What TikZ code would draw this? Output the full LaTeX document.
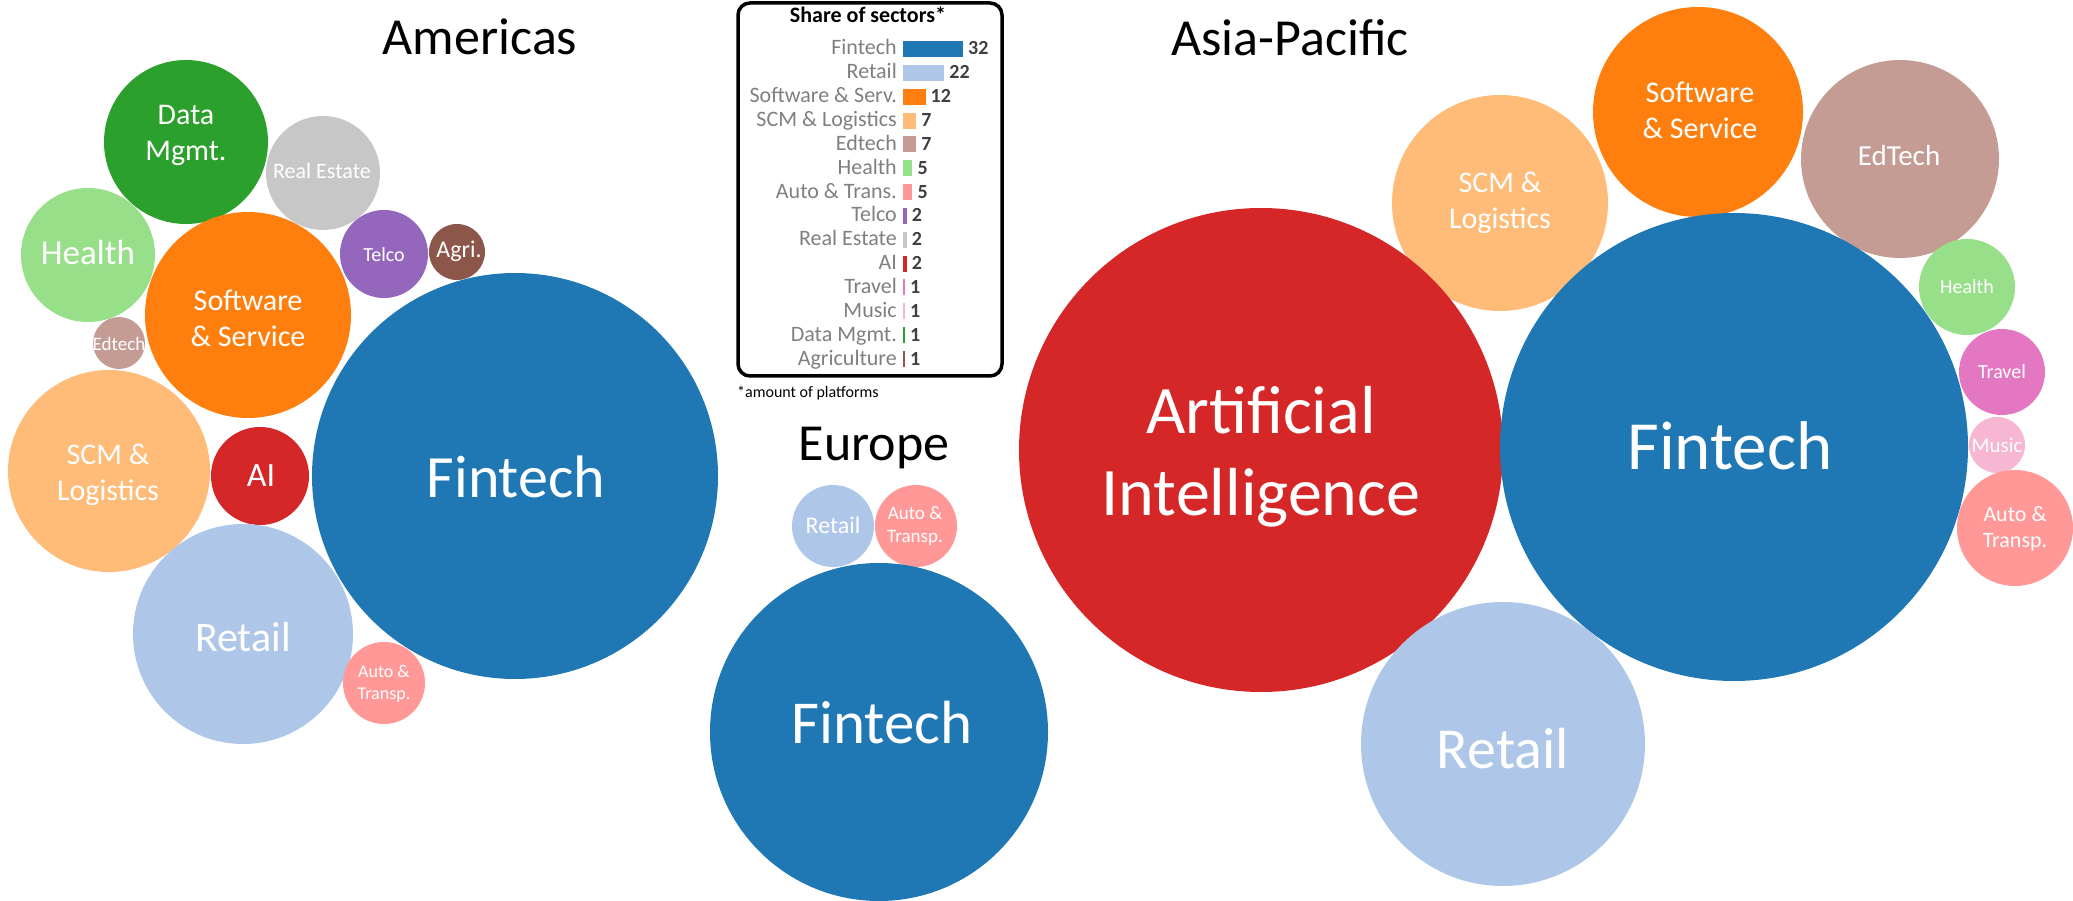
\documentclass[tikz,border=0pt]{standalone}
\usepackage{fontspec}
\setmainfont{Carlito}
\newcommand{\fsz}[1]{\fontsize{#1}{\fpeval{1.2*#1}}\selectfont}
\definecolor{cFin}{HTML}{1F77B4}
\definecolor{cRet}{HTML}{AEC7E8}
\definecolor{cSof}{HTML}{FF7F0E}
\definecolor{cScm}{HTML}{FFBB78}
\definecolor{cEdt}{HTML}{C49C94}
\definecolor{cHea}{HTML}{98DF8A}
\definecolor{cAut}{HTML}{FF9896}
\definecolor{cTel}{HTML}{9467BD}
\definecolor{cRea}{HTML}{C7C7C7}
\definecolor{cAI}{HTML}{D62728}
\definecolor{cTra}{HTML}{E377C2}
\definecolor{cMus}{HTML}{F7B6D2}
\definecolor{cDat}{HTML}{2CA02C}
\definecolor{cAgr}{HTML}{8C564B}
\definecolor{cLab}{HTML}{7F7F7F}
\definecolor{cNum}{HTML}{3F3F3F}
\begin{document}
\begin{tikzpicture}[x=1pt,y=-1pt,
  bub/.style={circle,inner sep=0pt,outer sep=0pt,draw=none,minimum size=#1},
  lab/.style={text=white,align=center,inner sep=0pt,font=\fsz{#1}},
  ttl/.style={text=black,inner sep=0pt,anchor=base,font=\fsz{52}},
  leglab/.style={text=cLab,inner sep=0pt,anchor=base east,font=\fsz{22}},
  legnum/.style={text=cNum,inner sep=0pt,anchor=base west,font=\fsz{20}\bfseries},
]
\useasboundingbox (0,0) rectangle (2073,901);

% ---------- Americas ----------
\node[ttl] (tAm) at (480,55) {Americas};
\node[bub=406pt,fill=cFin] (fA) at (515,476) {};
\node[bub=164pt,fill=cDat] (dmA) at (186,142) {};
\node[bub=114pt,fill=cRea] (reA) at (323,173) {};
\node[bub=134pt,fill=cHea] (heA) at (88,255) {};
\node[bub=206pt,fill=cSof] (ssA) at (248,315) {};
\node[bub=88pt,fill=cTel] (teA) at (384,254) {};
\node[bub=56pt,fill=cAgr] (agA) at (457,252) {};
\node[bub=52pt,fill=cEdt] (edA) at (119,343) {};
\node[bub=202pt,fill=cScm] (scA) at (109,471) {};
\node[bub=98pt,fill=cAI] (aiA) at (260,476) {};
\node[bub=220pt,fill=cRet] (rtA) at (243,634) {};
\node[bub=82pt,fill=cAut] (auA) at (384,683) {};

\node[lab=60] (fAt) at (516,477) {Fintech};
\node[lab=30] (dmAt) at (186,135) {Data\\Mgmt.};
\node[lab=22] (reAt) at (322,171) {Real Estate};
\node[lab=35] (heAt) at (88,252) {Health};
\node[lab=30] (ssAt) at (248,318) {Software\\\& Service};
\node[lab=20] (teAt) at (384,255) {Telco};
\node[lab=24] (agAt) at (459,251) {Agri.};
\node[lab=19] (edAt) at (119,344) {Edtech};
\node[lab=30] (scAt) at (108,475) {SCM \&\\Logistics};
\node[lab=34] (aiAt) at (261,476) {AI};
\node[lab=42] (rtAt) at (243,637) {Retail};
\node[lab=18] (auAt) at (384,684) {Auto \&\\Transp.};

% ---------- Europe ----------
\node[ttl] (tEu) at (874,460) {Europe};
\node[bub=82pt,fill=cRet] (rtE) at (833,526) {};
\node[bub=82pt,fill=cAut] (auE) at (916,526) {};
\node[bub=338pt,fill=cFin] (fE) at (879,732) {};
\node[lab=24] (rtEt) at (833,525) {Retail};
\node[lab=19] (auEt) at (915,526) {Auto \&\\Transp.};
\node[lab=61] (fEt) at (882,723) {Fintech};

% ---------- Asia-Pacific ----------
\node[ttl] (tAs) at (1290,56) {Asia-Pacific};
\node[bub=216pt,fill=cScm] (scP) at (1500,203) {};
\node[bub=210pt,fill=cSof] (ssP) at (1698,112) {};
\node[bub=198pt,fill=cEdt] (edP) at (1900,159) {};
\node[bub=484pt,fill=cAI] (aiP) at (1261,450) {};
\node[bub=468pt,fill=cFin] (fP) at (1734,447) {};
\node[bub=284pt,fill=cRet] (rtP) at (1503,744) {};
\node[bub=96pt,fill=cHea] (heP) at (1967,287) {};
\node[bub=86pt,fill=cTra] (trP) at (2002,372) {};
\node[bub=56pt,fill=cMus] (muP) at (1997,445) {};
\node[bub=116pt,fill=cAut] (auP) at (2015,528) {};

\node[lab=30] (scPt) at (1500,203) {SCM \&\\Logistics};
\node[lab=30] (ssPt) at (1700,110) {Software\\\& Service};
\node[lab=29] (edPt) at (1899,156) {EdTech};
\node[lab=68] (aiPt) at (1261,457) {Artificial\\Intelligence};
\node[lab=69] (fPt) at (1730,446) {Fintech};
\node[lab=58] (rtPt) at (1503,749) {Retail};
\node[lab=20] (hePt) at (1967,287) {Health};
\node[lab=20] (trPt) at (2002,372) {Travel};
\node[lab=21] (muPt) at (1997,445) {Music};
\node[lab=22] (auPt) at (2015,529) {Auto \&\\Transp.};

% ---------- Legend ----------
\node[draw=black,line width=3.5pt,rounded corners=12pt,minimum width=264pt,minimum height=373pt,inner sep=0pt] (legend) at (870,189.5) {};
\node[inner sep=0pt,anchor=base,font=\fsz{22}\bfseries] (legT) at (868,23) {Share of sectors*};
\foreach \lab/\val/\col [count=\i from 0] in {
  Fintech/32/cFin, Retail/22/cRet, Software \& Serv./12/cSof,
  SCM \& Logistics/7/cScm, Edtech/7/cEdt, Health/5/cHea,
  Auto \& Trans./5/cAut, Telco/2/cTel, Real Estate/2/cRea,
  AI/2/cAI, Travel/1/cTra, Music/1/cMus, Data Mgmt./1/cDat,
  Agriculture/1/cAgr}{
  \node[leglab] (ll\i) at (897,{55+\i*23.85}) {\lab};
  \fill[\col] (903,{55+\i*23.85-14}) rectangle ++({\val*1.875},16);
  \node[legnum] (ln\i) at ({903+\val*1.875+5},{55+\i*23.85}) {\val};
}
\node[inner sep=0pt,anchor=base west,font=\fsz{16}] (legF) at (737,397) {*amount of platforms};
\end{tikzpicture}
\end{document}
